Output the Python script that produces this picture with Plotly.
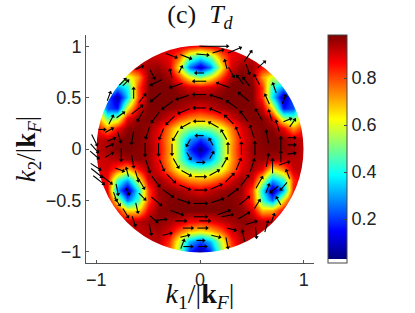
import math
import plotly.graph_objects as go

grid_x = [-1.0, -0.9, -0.8, -0.7, -0.6, -0.5, -0.4, -0.3, -0.2, -0.1, 0.0,
          0.1, 0.2, 0.3, 0.4, 0.5, 0.6, 0.7, 0.8, 0.9, 1.0]
grid_y = [1.0, 0.9, 0.8, 0.7, 0.6, 0.5, 0.4, 0.3, 0.2, 0.1, 0.0,
          -0.1, -0.2, -0.3, -0.4, -0.5, -0.6, -0.7, -0.8, -0.9, -1.0]
grid_z = [
 [.90,.90,.90,.90,.90,.90,.90,.90,.90,.88,.85,.88,.90,.90,.90,.90,.90,.90,.90,.90,.90],
 [.92,.92,.92,.92,.92,.92,.90,.88,.78,.52,.42,.52,.76,.88,.90,.92,.92,.92,.92,.92,.92],
 [.90,.90,.85,.85,.90,.95,.96,.90,.62,.26,.09,.26,.62,.90,.96,.95,.85,.85,.90,.90,.90],
 [.85,.75,.62,.58,.72,.97,.99,.95,.80,.62,.52,.62,.80,.95,.99,.96,.72,.58,.62,.75,.85],
 [.75,.50,.30,.40,.80,.98,.99,.99,.95,.90,.88,.90,.95,.99,.99,.98,.82,.42,.30,.50,.75],
 [.70,.25,.06,.35,.80,.98,.99,.99,.98,.97,.97,.97,.98,.99,.99,.98,.82,.38,.06,.25,.70],
 [.70,.22,.16,.62,.90,.98,.98,.97,.95,.92,.88,.92,.95,.97,.98,.98,.92,.65,.16,.22,.60],
 [.80,.48,.55,.88,.97,.98,.96,.90,.81,.74,.72,.74,.81,.90,.96,.98,.98,.90,.55,.48,.70],
 [.88,.72,.86,.97,.98,.96,.89,.75,.60,.52,.50,.52,.60,.75,.89,.96,.98,.97,.88,.72,.85],
 [.92,.93,.97,.99,.98,.95,.87,.71,.50,.30,.20,.30,.50,.71,.87,.95,.98,.99,.97,.93,.92],
 [.92,.95,.98,.99,.97,.96,.88,.72,.50,.20,.03,.20,.50,.72,.88,.96,.97,.98,.97,.95,.92],
 [.90,.92,.93,.95,.97,.95,.87,.71,.50,.30,.20,.30,.50,.71,.87,.95,.96,.94,.93,.93,.92],
 [.90,.90,.80,.68,.85,.96,.89,.75,.60,.52,.50,.52,.60,.75,.89,.95,.88,.62,.75,.92,.92],
 [.90,.86,.45,.30,.60,.90,.96,.90,.81,.74,.72,.74,.81,.90,.96,.90,.60,.30,.42,.82,.92],
 [.90,.88,.30,.06,.40,.80,.96,.97,.95,.92,.88,.92,.95,.97,.96,.80,.38,.06,.30,.85,.92],
 [.92,.92,.60,.25,.45,.80,.95,.98,.98,.97,.97,.97,.98,.98,.95,.82,.45,.25,.65,.92,.92],
 [.92,.92,.85,.65,.65,.88,.97,.98,.99,.99,.99,.99,.99,.98,.97,.90,.68,.70,.88,.92,.92],
 [.92,.92,.92,.92,.93,.96,.97,.95,.92,.88,.86,.88,.92,.95,.97,.96,.93,.92,.92,.92,.92],
 [.92,.92,.92,.92,.92,.93,.95,.90,.78,.68,.64,.68,.78,.90,.95,.93,.92,.92,.92,.92,.92],
 [.92,.92,.92,.92,.92,.92,.93,.82,.58,.33,.22,.33,.58,.82,.93,.92,.92,.92,.92,.92,.92],
 [.90,.90,.90,.90,.90,.90,.90,.78,.52,.18,.04,.18,.52,.78,.90,.90,.90,.90,.90,.90,.90],
]

arrow_x = [
 0, -.11, -.11, 0, .11, .11,
 .27, .234, .135, 0, -.135, -.234, -.27, -.234, -.135, 0, .135, .234,
 .4, .37, .283, .153, 0, -.153, -.283, -.37, -.4, -.37, -.283, -.153, 0, .153, .283, .37,
 .53, .504, .429, .312, .164, 0, -.164, -.312, -.429, -.504, -.53, -.504, -.429, -.312, -.164, 0, .164, .312, .429, .504,
 .65, .57, .424, .226, 0, -.226, -.424, -.57, -.65, -.65, -.57, -.424, -.226, 0, .226, .424, .57, .65,
 -.38, -.19, .04, .26, -.32, -.48, -.12, .02, .3, -.15, .15, .42, .26, -.17, 0, -.12, .02,
 .13, .33, .46, .59, -.28, -.14, .02, .17, -.59, .25, -.19, 0, -.28, -.46, .3, .46,
 -1.02, -1.02, -1.02, -1.01, -1.0, -.98, -.88, -.88, -.86, -.95, -.86, -.75, -.64, -.77, -.88, -.61, -.56, -.88, -.72,
 -.78, -.8, -.82, -.7, -.61, -.56, -.72, -.64, -.9, -.8, -.61, -.7,
 .72, .7, .81, .85, .76, .65, .55, .54, .64, .7, .49, .81,
 .88, .88, .88, .75, .72, .81, .89, .65, .68, .84, .55, .39,
 .78, -.76, -.78, .42, -.42, .78, -.45, .45,
]
arrow_y = [
 .13, .065, -.065, -.13, -.065, .065,
 0, .135, .234, .27, .234, .135, 0, -.135, -.234, -.27, -.234, -.135,
 0, .153, .283, .37, .4, .37, .283, .153, 0, -.153, -.283, -.37, -.4, -.37, -.283, -.153,
 0, .164, .312, .429, .504, .53, .504, .429, .312, .164, 0, -.164, -.312, -.429, -.504, -.53, -.504, -.429, -.312, -.164,
 .115, .33, .506, .62, .66, .62, .506, .33, .115, -.115, -.33, -.506, -.62, -.66, -.62, -.506, -.33, -.115,
 -.69, -.70, -.70, -.65, -.83, -.78, -.77, -.77, -.78, -.85, -.85, -.85, -.91, -.93, -.89, -.95, -.95,
 1.0, .96, .90, .82, .91, .90, .92, .95, .79, .82, .77, .74, .73, .73, .75, .78,
 .09, .01, -.055, -.17, -.23, -.3, .03, -.06, .09, .19, .28, .65, .54, .33, .18, .38, .49, .51, .64,
 -.2, -.39, -.46, -.41, -.26, -.46, -.62, -.7, -.3, -.51, -.57, -.23,
 -.39, -.17, -.14, -.25, -.51, -.39, -.54, -.81, -.76, -.68, -.72, -.36,
 .11, .04, -.045, .22, .59, .48, .25, .48, .32, .28, .67, .67,
 .05, -.05, .12, -.65, .65, -.08, -.68, .65,
]
arrow_u = [
 -.07, -.035, .035, .07, .035, -.035,
 0, -.05, -.087, -.1, -.087, -.05, 0, .05, .087, .1, .087, .05,
 0, -.042, -.078, -.102, -.11, -.102, -.078, -.042, 0, .042, .078, .102, .11, .102, .078, .042,
 0, -.037, -.071, -.097, -.114, -.12, -.114, -.097, -.071, -.037, 0, .037, .071, .097, .114, .12, .114, .097, .071, .037,
 -.02, -.06, -.092, -.113, -.12, -.113, -.092, -.06, -.02, .02, .06, .092, .113, .12, .113, .092, .06, .02,
 .1, .1, .1, .1, .08, .02, .09, .09, .08, .08, .08, -.02, .02, .03, .07, .08, .07,
 .27, .12, .07, .07, .1, .1, .11, .1, .07, -.02, .03, -.08, -.02, .04, .05, .03,
 .05, .07, .08, .09, .1, .1, .07, .07, .07, .06, .04, .06, 0, .07, .07, .1, .06, .03, .05,
 .08, .02, .03, .03, .03, .06, .05, .03, .09, .05, .02, -.02,
 -.07, 0, .09, -.03, -.04, .03, .05, .01, .03, .03, .1, -.06,
 .07, .07, .07, -.03, -.03, .03, .05, -.04, -.03, .07, -.05, -.06,
 .0, .0, .03, .1, -.1, .0, .07, -.06,
]
arrow_v = [
 0, -.06, -.06, 0, .06, .06,
 .1, .087, .05, 0, -.05, -.087, -.1, -.087, -.05, 0, .05, .087,
 .11, .102, .078, .042, 0, -.042, -.078, -.102, -.11, -.102, -.078, -.042, 0, .042, .078, .102,
 .12, .114, .097, .071, .037, 0, -.037, -.071, -.097, -.114, -.12, -.114, -.097, -.071, -.037, 0, .037, .071, .097, .114,
 .118, .104, .077, .041, 0, -.041, -.077, -.104, -.118, -.118, -.104, -.077, -.041, 0, .041, .077, .104, .118,
 .01, 0, 0, .02, .02, -.1, 0, 0, -.02, .02, -.02, .1, -.1, .08, 0, 0, 0,
 0, .05, .1, .06, -.04, -.04, -.01, .03, .03, .08, .06, 0, .08, -.08, -.09, -.09,
 -.1, -.08, -.07, -.06, -.08, -.08, .03, .04, .03, 0, .08, .06, .1, .05, .04, .08, .08, .08, .05,
 -.03, -.1, -.08, -.06, -.1, -.06, -.08, -.09, -.07, -.07, -.09, .08,
 -.06, .13, .03, .08, .07, .08, .08, -.1, .1, .08, .03, -.07,
 0, 0, .01, .1, .09, .08, .07, .09, .1, .03, .09, .08,
 .12, -.12, -.1, .06, -.05, .1, -.06, .08,
]

cbar_ticks = [0.2, 0.4, 0.6, 0.8]
x_ticks = [-1, 0, 1]
y_ticks = [-1, -0.5, 0, 0.5, 1]
y_tick_labels = ["\u22121", "\u22120.5", "0", "0.5", "1"]
x_tick_labels = ["\u22121", "0", "1"]

jet = [[0.0, "#ffffff"], [0.0175, "#ffffff"], [0.0175, "#00007f"],
       [0.14, "#0000ff"], [0.386, "#00ffff"], [0.632, "#ffff00"],
       [0.877, "#ff0000"], [1.0, "#7f0000"]]

fig = go.Figure()
fig.add_trace(go.Heatmap(
    x=grid_x, y=grid_y, z=grid_z, zsmooth="best",
    colorscale=jet, zmin=0.013, zmax=0.983,
    colorbar=dict(
        thickness=18.5, thicknessmode="pixels", len=1, lenmode="fraction",
        x=(327.8 - 85.5) / 228.5, xanchor="left",
        y=0, yanchor="bottom",
        tickvals=cbar_ticks, ticktext=["0.2", "0.4", "0.6", "0.8"],
        ticks="inside", ticklen=3, tickcolor="#444", tickwidth=1,
        outlinecolor="#444", outlinewidth=1, borderwidth=0, xpad=0, ypad=0,
        tickfont=dict(family="Liberation Sans", size=18, color="#222"),
    ),
    hoverinfo="skip",
))
# white ring outside the unit disc, so that the disc edge stays a clean circle
fig.add_trace(go.Scatter(
    x=[0], y=[0], mode="markers", showlegend=False, hoverinfo="skip",
    marker=dict(symbol="circle-open", size=263, color="white",
                line=dict(color="white", width=56)),
))

line_x, line_y, tip_x, tip_y, tip_angle = [], [], [], [], []
for x, y, u, v in zip(arrow_x, arrow_y, arrow_u, arrow_v):
    line_x += [x - u / 2, x + u / 2, None]
    line_y += [y - v / 2, y + v / 2, None]
    tip_x.append(x + u / 2)
    tip_y.append(y + v / 2)
    tip_angle.append(math.degrees(math.atan2(u, v)))

fig.add_trace(go.Scatter(
    x=line_x, y=line_y, mode="lines", showlegend=False, hoverinfo="skip",
    line=dict(color="black", width=1.1),
))
fig.add_trace(go.Scatter(
    x=tip_x, y=tip_y, mode="markers", showlegend=False, hoverinfo="skip",
    marker=dict(symbol="triangle-up", size=4, color="black", angle=tip_angle,
                standoff=0, line=dict(width=0)),
))

fig.update_layout(
    width=415, height=313, autosize=False,
    margin=dict(l=85.5, r=101, t=34.5, b=49.5, autoexpand=False),
    paper_bgcolor="white", plot_bgcolor="white", showlegend=False,
    title=dict(text="(c)  <i>T</i><sub><i>d</i></sub>",
               x=200 / 415, xanchor="center", y=(313 - 14) / 313, yanchor="middle",
               font=dict(family="Liberation Serif", size=26, color="#111")),
    font=dict(family="Liberation Sans", size=18, color="#222"),
)
fig.update_xaxes(
    range=[-1.1, 1.1], tickvals=x_ticks, ticktext=x_tick_labels, showgrid=False,
    zeroline=False, showline=True, linecolor="#555", linewidth=1, mirror=False,
    ticks="inside", ticklen=3, tickcolor="#555",
    title=dict(text="<i>k</i><sub>1</sub>/|<b>k</b><sub><i>F</i></sub>|",
               font=dict(family="Liberation Serif", size=28, color="#111"), standoff=3),
)
fig.update_yaxes(
    range=[-1.11, 1.11], tickvals=y_ticks, ticktext=y_tick_labels, showgrid=False,
    zeroline=False, showline=True, linecolor="#555", linewidth=1, mirror=False,
    ticks="inside", ticklen=3, tickcolor="#555",
    title=dict(text="<i>k</i><sub>2</sub>/|<b>k</b><sub><i>F</i></sub>|",
               font=dict(family="Liberation Serif", size=27, color="#111"), standoff=2),
)
fig.write_html("out.html", config=dict(displayModeBar=False),
               post_script="document.body.style.margin='0';document.documentElement.style.overflow='hidden';")
